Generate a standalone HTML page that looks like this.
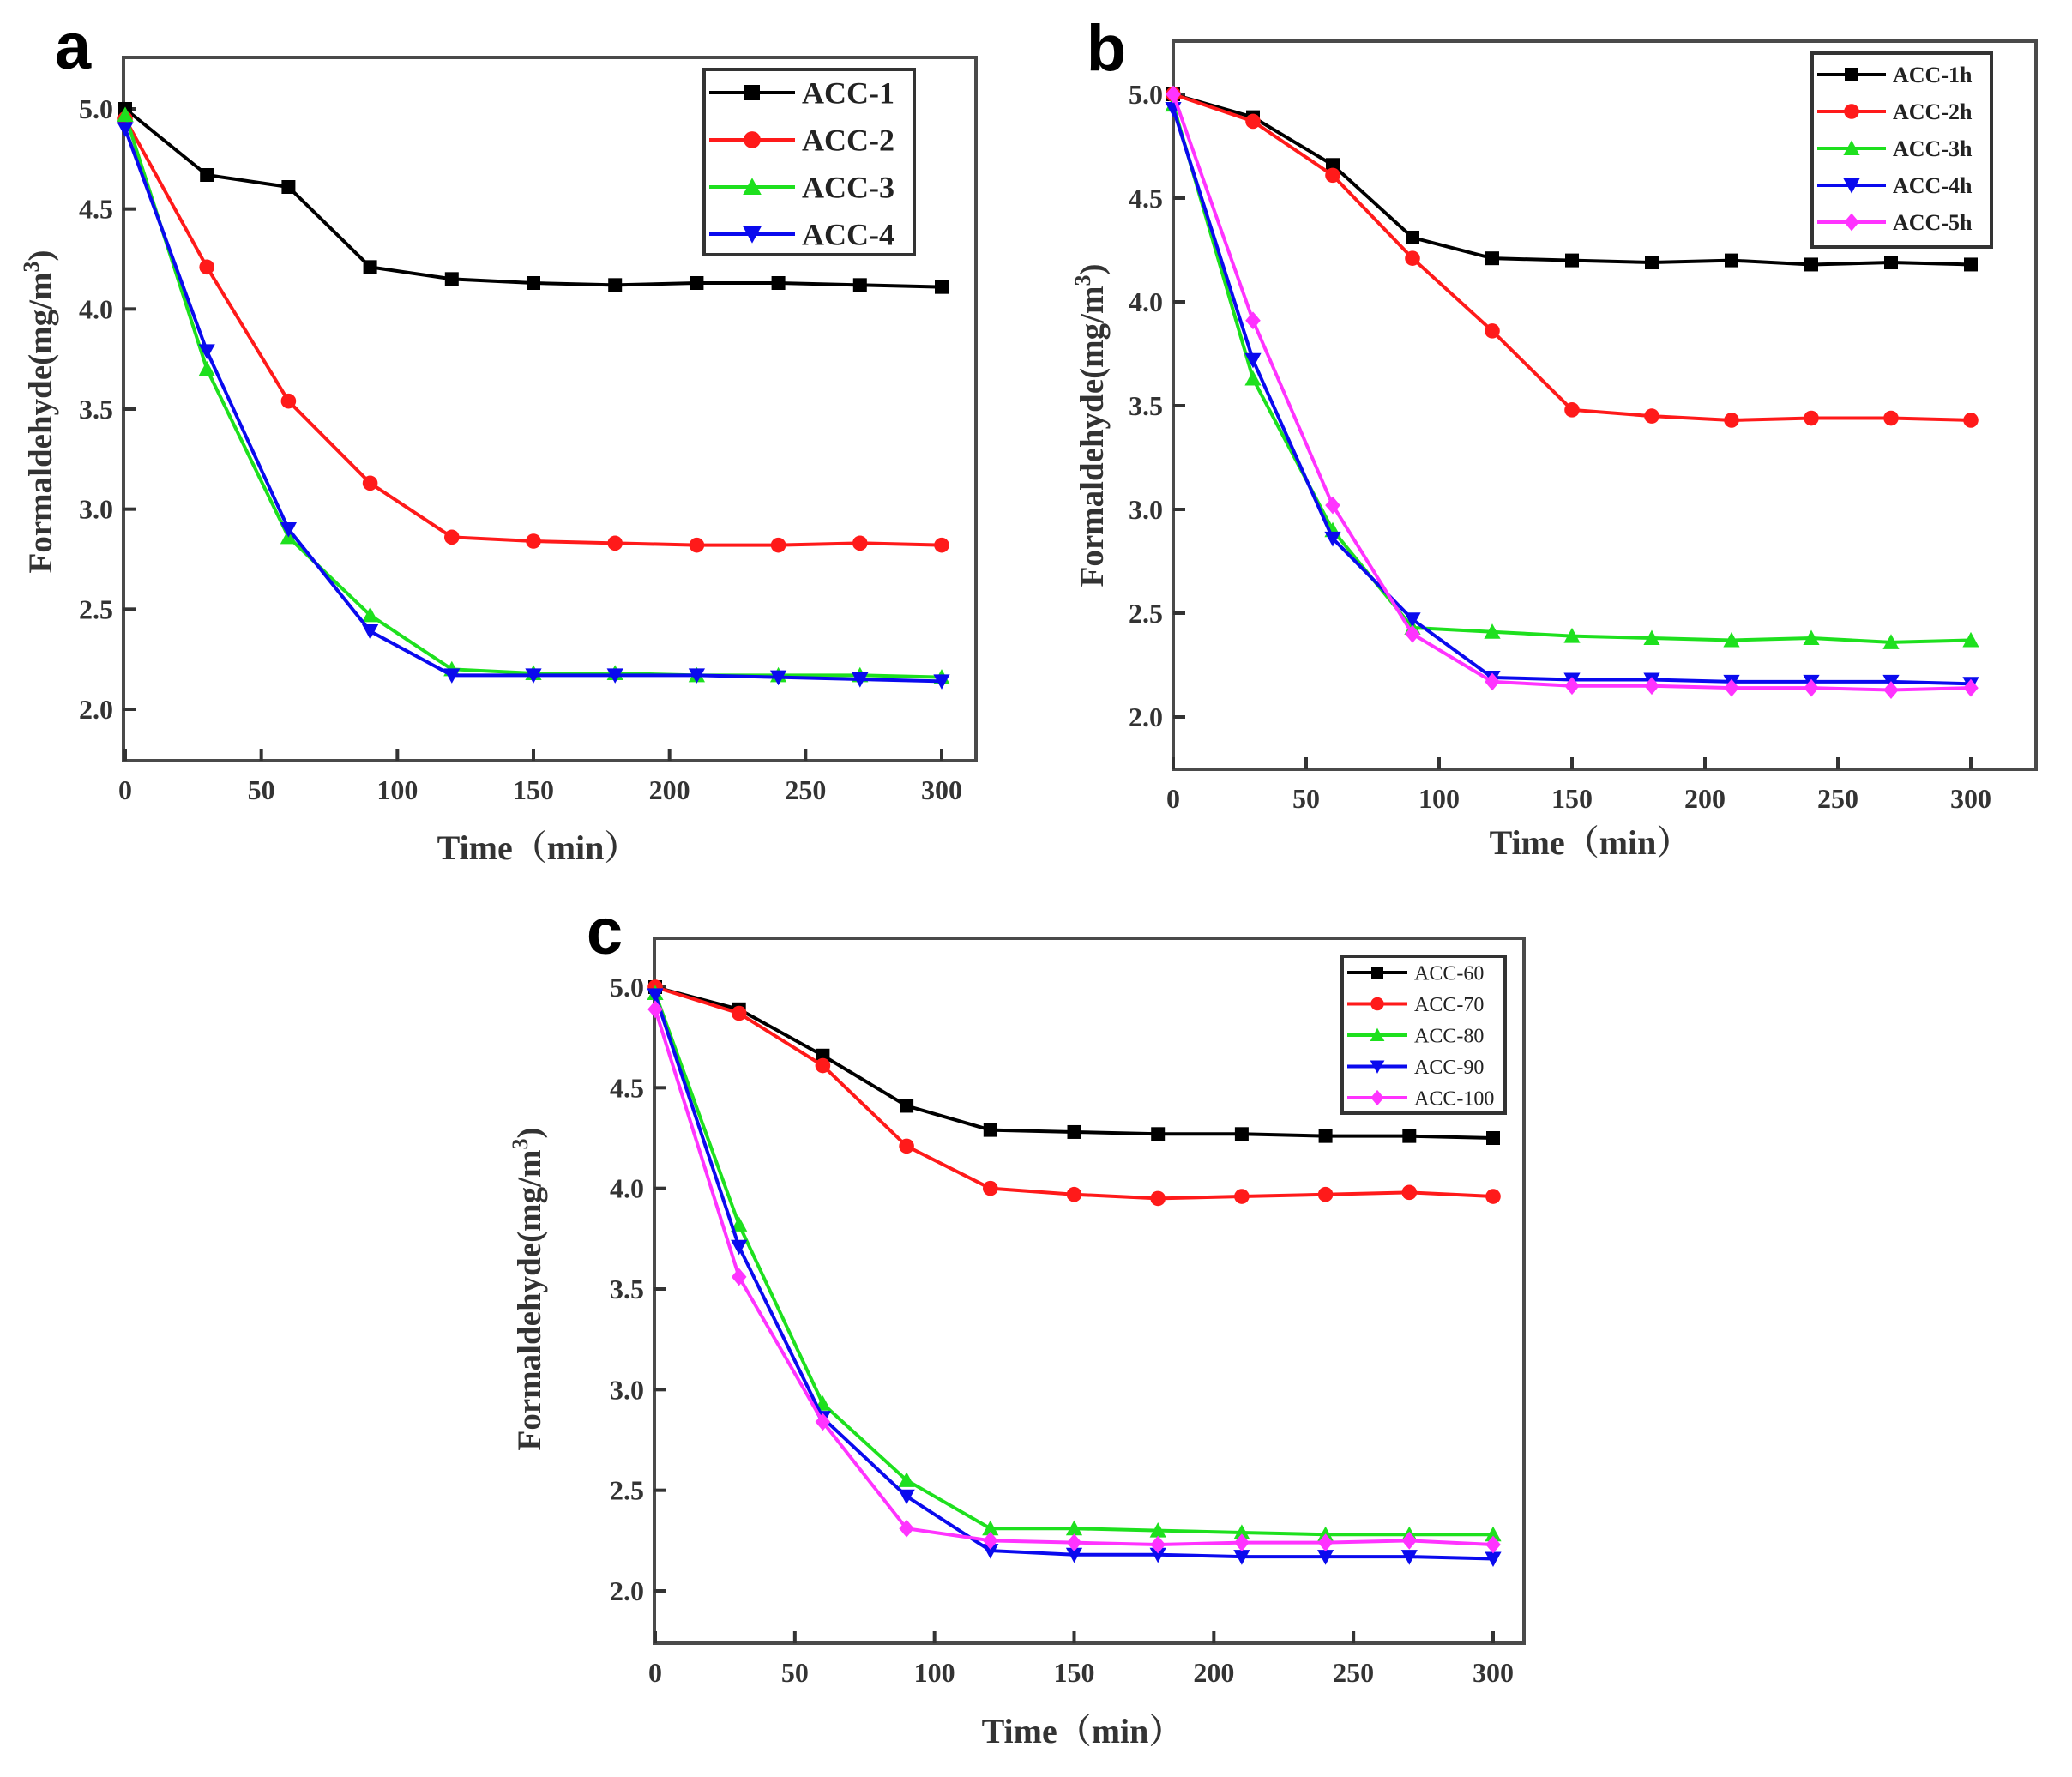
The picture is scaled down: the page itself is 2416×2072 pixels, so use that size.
<!DOCTYPE html>
<html><head><meta charset="utf-8"><style>
html,body{margin:0;padding:0;background:#fff}
svg{display:block}
</style></head><body>
<svg id="fig" xmlns="http://www.w3.org/2000/svg" width="2416" height="2072" viewBox="0 0 2416 2072"></svg>
<script>
const times=[0,30,60,90,120,150,180,210,240,270,300];
const xTicks=[0,50,100,150,200,250,300];
const yTicks=[2.0,2.5,3.0,3.5,4.0,4.5,5.0];
const aNames=["ACC-1","ACC-2","ACC-3","ACC-4"];
const a1=[5.0,4.67,4.61,4.21,4.15,4.13,4.12,4.13,4.13,4.12,4.11];
const a2=[4.95,4.21,3.54,3.13,2.86,2.84,2.83,2.82,2.82,2.83,2.82];
const a3=[4.97,3.70,2.86,2.47,2.20,2.18,2.18,2.17,2.17,2.17,2.16];
const a4=[4.90,3.79,2.90,2.39,2.17,2.17,2.17,2.17,2.16,2.15,2.14];
const bNames=["ACC-1h","ACC-2h","ACC-3h","ACC-4h","ACC-5h"];
const b1=[5.0,4.89,4.66,4.31,4.21,4.20,4.19,4.20,4.18,4.19,4.18];
const b2=[5.0,4.87,4.61,4.21,3.86,3.48,3.45,3.43,3.44,3.44,3.43];
const b3=[4.95,3.63,2.90,2.43,2.41,2.39,2.38,2.37,2.38,2.36,2.37];
const b4=[4.93,3.72,2.86,2.47,2.19,2.18,2.18,2.17,2.17,2.17,2.16];
const b5=[5.0,3.91,3.02,2.40,2.17,2.15,2.15,2.14,2.14,2.13,2.14];
const cNames=["ACC-60","ACC-70","ACC-80","ACC-90","ACC-100"];
const c1=[5.0,4.89,4.66,4.41,4.29,4.28,4.27,4.27,4.26,4.26,4.25];
const c2=[5.0,4.87,4.61,4.21,4.00,3.97,3.95,3.96,3.97,3.98,3.96];
const c3=[4.97,3.82,2.93,2.55,2.31,2.31,2.30,2.29,2.28,2.28,2.28];
const c4=[4.96,3.71,2.86,2.47,2.20,2.18,2.18,2.17,2.17,2.17,2.16];
const c5=[4.89,3.56,2.84,2.31,2.25,2.24,2.23,2.24,2.24,2.25,2.23];

const NS="http://www.w3.org/2000/svg";
const svg=document.getElementById('fig');
function mk(tag,attrs,parent){const e=document.createElementNS(NS,tag);for(const k in attrs)e.setAttribute(k,attrs[k]);(parent||svg).appendChild(e);return e;}
const colors=["#000000","#ff1a1a","#1ee01e","#0a0aee","#ff33ff"];
const shapes=["square","circle","up","down","diamond"];
function marker(g,shape,x,y,r,color){
  let e;
  if(shape==="square")e=mk('rect',{x:x-r,y:y-r,width:2*r,height:2*r,fill:color},g);
  else if(shape==="circle")e=mk('circle',{cx:x,cy:y,r:r*1.1,fill:color},g);
  else if(shape==="up")e=mk('polygon',{points:`${x},${y-r*1.2} ${x-r*1.2},${y+r} ${x+r*1.2},${y+r}`,fill:color},g);
  else if(shape==="down")e=mk('polygon',{points:`${x},${y+r*1.2} ${x-r*1.2},${y-r} ${x+r*1.2},${y-r}`,fill:color},g);
  else e=mk('polygon',{points:`${x},${y-r*1.3} ${x+r*1.1},${y} ${x},${y+r*1.3} ${x-r*1.1},${y}`,fill:color},g);
  return e;
}
function panel(p){
  const g=mk('g',{});
  
  
  const X=v=>p.x0+(v/300)*(p.x300-p.x0);
  const Y=v=>p.y2-(v-2)*(p.y2-p.y5)/3;
  const fr=mk('rect',{x:p.L,y:p.T,width:p.R-p.L,height:p.B-p.T,fill:'none',stroke:'#4a4a4a','stroke-width':4},g);
  
  
  xTicks.forEach(t=>{
    const x=X(t);
    mk('line',{x1:x,y1:p.B,x2:x,y2:p.B-14,stroke:'#333','stroke-width':4},g);
    const tx=mk('text',{x:x,y:p.B+45,'text-anchor':'middle','font-family':'Liberation Serif, serif','font-weight':'bold','font-size':32,fill:'#333'},g);
    tx.textContent=String(t);
    
    
  });
  yTicks.forEach(t=>{
    const y=Y(t);
    mk('line',{x1:p.L,y1:y,x2:p.L+14,y2:y,stroke:'#333','stroke-width':4},g);
    const ty=mk('text',{x:p.L-12,y:y+11,'text-anchor':'end','font-family':'Liberation Serif, serif','font-weight':'bold','font-size':32,fill:'#333'},g);
    ty.textContent=t.toFixed(1);
    
    
  });
  p.series.forEach((s,i)=>{
    const sg=mk('g',{},g);
    
    
    const pts=s.map((v,j)=>X(times[j])+','+Y(v)).join(' ');
    mk('polyline',{points:pts,fill:'none',stroke:colors[i],'stroke-width':4},sg);
    s.forEach((v,j)=>{const m=marker(sg,shapes[i],X(times[j]),Y(v),p.mr,colors[i]);
      
      });
  });
  const lg=mk('g',{},g);
  
  
  mk('rect',{x:p.lg.x,y:p.lg.y,width:p.lg.w,height:p.lg.h,fill:'#fff',stroke:'#333','stroke-width':4},lg);
  p.names.forEach((n,i)=>{
    const y=p.lg.y0+i*p.lg.dy;
    const ex=p.lg.x+6, ew=p.lg.lw;
    mk('line',{x1:ex,y1:y,x2:ex+ew,y2:y,stroke:colors[i],'stroke-width':4},lg);
    marker(lg,shapes[i],ex+ew/2,y,p.lg.mr,colors[i]);
    const t=mk('text',{x:ex+ew+8,y:y+p.lg.fs*0.35,'font-family':'Liberation Serif, serif','font-weight':p.lg.fw,'font-size':p.lg.fs,fill:'#222'},lg);
    t.textContent=n;
    
    
  });
  const xt=mk('text',{x:p.xt[0],y:p.xt[1],'text-anchor':'middle','font-family':'Liberation Serif, "Noto Serif CJK SC", serif','font-weight':'bold','font-size':40,fill:'#333'},g);
  xt.textContent='Time（min）';
  
  
  const yt=mk('text',{x:0,y:0,'text-anchor':'middle','font-family':'Liberation Serif, serif','font-weight':'bold','font-size':39,fill:'#333',transform:`translate(${p.yt[0]},${p.yt[1]}) rotate(-90)`},g);
  yt.innerHTML='Formaldehyde(mg/m<tspan dy="-15" font-size="26">3</tspan><tspan dy="15">)</tspan>';
  
  
  const lt=mk('text',{x:p.lt[0],y:p.lt[1],'text-anchor':'middle','font-family':'Liberation Sans, sans-serif','font-weight':'bold','font-size':76,fill:'#000'},g);
  lt.textContent=p.letter;
  
  
}
panel({letter:'a',L:144,R:1138,T:67,B:887,x0:146,x300:1098,y2:827,y5:127,mr:8,
  series:[a1,a2,a3,a4],names:aNames,
  lg:{x:821,y:81,w:245,h:216,y0:108,dy:55,lw:100,mr:9,fs:36,fw:'bold'},
  xt:[627,1002],yt:[60,480],lt:[85,80]});
panel({letter:'b',L:1368,R:2374,T:48,B:897,x0:1368,x300:2298,y2:836,y5:110,mr:8,
  series:[b1,b2,b3,b4,b5],names:bNames,
  lg:{x:2113,y:62,w:209,h:226,y0:87,dy:43,lw:80,mr:8,fs:26,fw:'bold'},
  xt:[1854,996],yt:[1286,496],lt:[1290,82]});
panel({letter:'c',L:763,R:1777,T:1094,B:1916,x0:764,x300:1741,y2:1855,y5:1151,mr:8,
  series:[c1,c2,c3,c4,c5],names:cNames,
  lg:{x:1565,y:1115,w:190,h:183,y0:1134,dy:36.5,lw:70,mr:7,fs:24,fw:'normal'},
  xt:[1262,2032],yt:[630,1503],lt:[705,1112]});
</script>
</body></html>
